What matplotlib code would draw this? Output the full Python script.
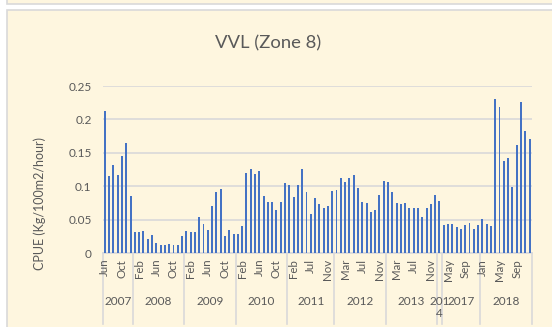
import numpy as np
import matplotlib
matplotlib.use("Agg")
import matplotlib.pyplot as plt
import matplotlib.transforms as mtransforms
from matplotlib.patches import Rectangle

plt.rcParams['font.family'] = ['Lato', 'DejaVu Sans']

# monthly CPUE, grouped by survey year
year_labels = ['2007', '2008', '2009', '2010', '2011', '2012', '2013', '201\n4', '2017', '2018']
year_months = [
    ['Jun', 'Jul', 'Aug', 'Sep', 'Oct', 'Nov', 'Dec'],
    ['Jan', 'Feb', 'Mar', 'Apr', 'May', 'Jun', 'Jul', 'Aug', 'Sep', 'Oct', 'Nov', 'Dec'],
    ['Jan', 'Feb', 'Mar', 'Apr', 'May', 'Jun', 'Jul', 'Aug', 'Sep', 'Oct', 'Nov', 'Dec'],
    ['Jan', 'Feb', 'Mar', 'Apr', 'May', 'Jun', 'Jul', 'Aug', 'Sep', 'Oct', 'Nov', 'Dec'],
    ['Jan', 'Feb', 'Mar', 'Apr', 'May', 'Jul', 'Aug', 'Sep', 'Oct', 'Nov', 'Dec'],
    ['Jan', 'Feb', 'Mar', 'Apr', 'May', 'Jun', 'Jul', 'Aug', 'Sep', 'Oct', 'Nov', 'Dec'],
    ['Jan', 'Feb', 'Mar', 'Apr', 'May', 'Jun', 'Jul', 'Aug', 'Sep', 'Oct', 'Nov', 'Dec'],
    ['Jan'],
    ['Apr', 'May', 'Jun', 'Jul', 'Aug', 'Sep', 'Oct', 'Nov', 'Dec'],
    ['Jan', 'Feb', 'Mar', 'Apr', 'May', 'Jun', 'Jul', 'Aug', 'Sep', 'Oct', 'Nov', 'Dec'],
]
cpue = [
    0.213, 0.116, 0.1315, 0.1175, 0.146, 0.165, 0.086,
    0.032, 0.032, 0.033, 0.021, 0.028, 0.015, 0.012, 0.0125, 0.0145, 0.012, 0.012, 0.0255,
    0.034, 0.0315, 0.0325, 0.054, 0.044, 0.035, 0.071, 0.092, 0.0965, 0.0265, 0.035, 0.029,
    0.029, 0.0415, 0.12, 0.126, 0.119, 0.1235, 0.085, 0.0765, 0.0765, 0.065, 0.0765, 0.1045,
    0.1025, 0.084, 0.1025, 0.126, 0.092, 0.059, 0.083, 0.074, 0.067, 0.071, 0.093,
    0.095, 0.1125, 0.107, 0.1125, 0.1165, 0.0975, 0.077, 0.075, 0.0615, 0.065, 0.0875, 0.1085,
    0.1065, 0.092, 0.075, 0.0735, 0.075, 0.0675, 0.0675, 0.0675, 0.0545, 0.0675, 0.073, 0.0875,
    0.078,
    0.042, 0.044, 0.0435, 0.0395, 0.0365, 0.0425, 0.0455, 0.0365, 0.042,
    0.051, 0.044, 0.041, 0.23, 0.218, 0.1375, 0.143, 0.099, 0.1625, 0.2265, 0.183, 0.1715,
]

months = [m for grp in year_months for m in grp]
x = np.arange(len(cpue))

text_col = '#595959'
grid_col = '#D9D9D9'
bg_col = '#FEF6DF'

W, H = 552, 327
fig = plt.figure(figsize=(W / 100, H / 100), dpi=100, facecolor='white')

# chart frame (plus the strip of the chart above it)
fig.patches.append(Rectangle((7 / W, 1 - 3.5 / H), 1, 0.2, transform=fig.transFigure,
                             facecolor=bg_col, edgecolor=grid_col, lw=1.2, zorder=-5))
fig.patches.append(Rectangle((7 / W, -0.1), 1, 1.1 - 10 / H, transform=fig.transFigure,
                             facecolor=bg_col, edgecolor=grid_col, lw=1.2, zorder=-5))

ax = fig.add_axes([102.7 / W, 1 - 253.3 / H, 429 / W, 167.3 / H])
ax.set_facecolor('none')

ax.bar(x, cpue, width=0.45, color='#4472C4', zorder=3)

ax.set_xlim(-0.5, len(cpue) - 0.5)
ax.set_ylim(0, 0.25)
ax.set_yticks(np.arange(0, 0.26, 0.05))
ax.set_yticklabels(['0', '0.05', '0.1', '0.15', '0.2', '0.25'])
ax.yaxis.grid(True, color=grid_col, lw=1.2)
ax.set_axisbelow(True)
for s in ['top', 'right', 'left']:
    ax.spines[s].set_visible(False)
ax.spines['bottom'].set_color(grid_col)
ax.spines['bottom'].set_linewidth(1.2)
ax.tick_params(axis='y', length=0, pad=8, labelsize=8.5, labelcolor=text_col)

# month labels on every fourth category
ax.set_xticks(x[::4])
ax.set_xticklabels(months[::4], rotation=90, va='top', ha='center')
ax.tick_params(axis='x', length=0, pad=4, labelsize=8.3, labelcolor=text_col)

# year groups: dividers and labels below the month row
trans = mtransforms.blended_transform_factory(ax.transData, ax.transAxes)
start = 0
edges = [-0.5]
for label, grp in zip(year_labels, year_months):
    end = start + len(grp)
    centre = (start + end - 1) / 2
    ax.text(centre, -0.255, label, transform=trans, ha='center', va='top',
            fontsize=8.5, color=text_col, linespacing=1.15, clip_on=False)
    edges.append(end - 0.5)
    start = end
for e in edges:
    ax.plot([e, e], [0, -0.42], transform=trans, color=grid_col, lw=1.2,
            clip_on=False, zorder=0.1)

fig.text(268.5 / W, 1 - 43 / H, 'VVL (Zone 8)', ha='center', va='center',
         fontsize=13.3, color=text_col)
fig.text(40 / W, 1 - 203 / H, 'CPUE (Kg/100m2/hour)', ha='center', va='center',
         rotation=90, fontsize=9, color=text_col)

fig.savefig('out.png', dpi=100, facecolor=fig.get_facecolor())
